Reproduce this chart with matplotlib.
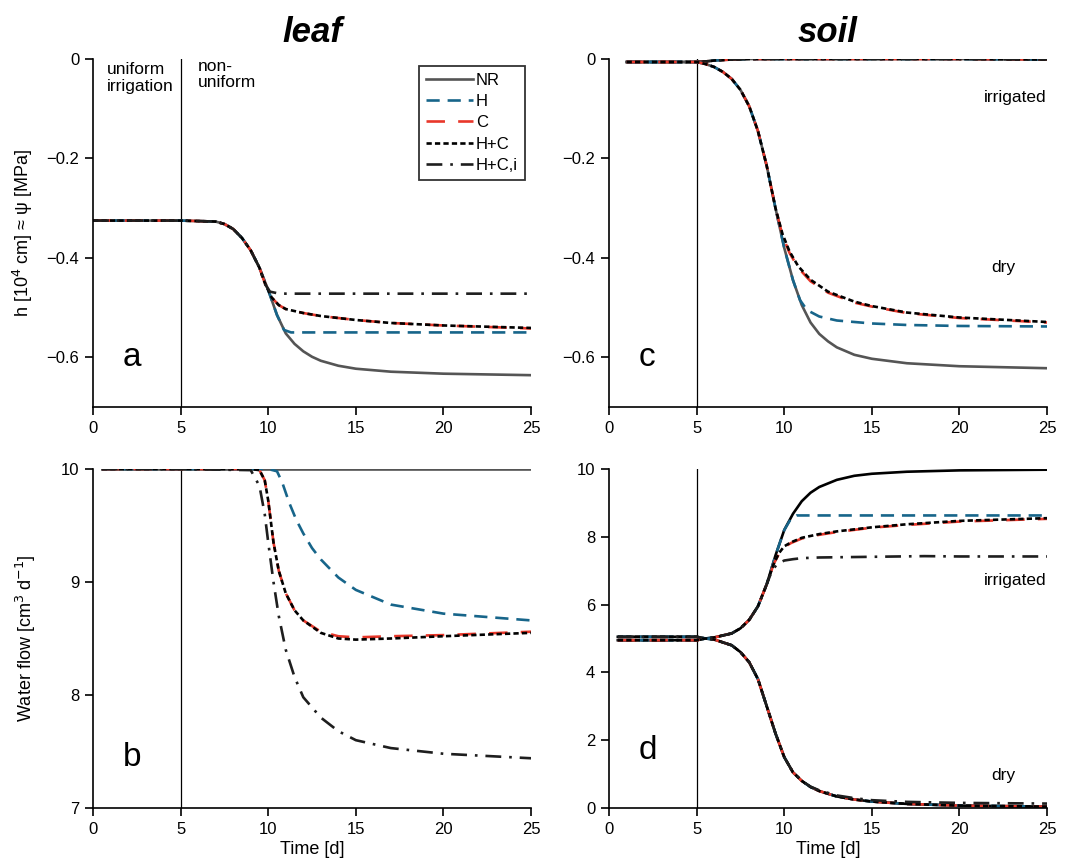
import numpy as np
import matplotlib
matplotlib.use("Agg")
import matplotlib.pyplot as plt

plt.rcParams['font.family'] = ['Liberation Sans', 'DejaVu Sans']

# ---- panel a: leaf water potential ----
ta = [0.0, 5, 7, 7.5, 8, 8.5, 9, 9.5, 10, 10.5, 11, 11.5, 12, 12.5, 13, 14, 15, 17, 20, 25]
a_NR = [-0.325, -0.325, -0.327, -0.332, -0.342, -0.36, -0.385, -0.42, -0.465, -0.515, -0.552, -0.573, -0.588, -0.599, -0.607, -0.617, -0.623, -0.629, -0.633, -0.636]
ta_H = [0.0, 5, 7, 7.5, 8, 8.5, 9, 9.5, 10, 10.5, 10.9, 11.3, 12, 15, 20, 25]
a_H = [-0.325, -0.325, -0.327, -0.332, -0.342, -0.36, -0.385, -0.42, -0.465, -0.515, -0.545, -0.55, -0.55, -0.55, -0.55, -0.55]
ta_C = [0.0, 5, 7, 7.5, 8, 8.5, 9, 9.5, 9.8, 10.2, 10.6, 11, 12, 13, 15, 17, 20, 25]
a_C = [-0.325, -0.325, -0.327, -0.332, -0.342, -0.36, -0.385, -0.42, -0.45, -0.48, -0.495, -0.503, -0.511, -0.517, -0.525, -0.531, -0.536, -0.542]
a_HC = [-0.325, -0.325, -0.327, -0.332, -0.342, -0.36, -0.385, -0.42, -0.45, -0.48, -0.495, -0.503, -0.511, -0.517, -0.525, -0.531, -0.536, -0.541]
ta_i = [0.0, 5, 7, 7.5, 8, 8.5, 9, 9.5, 9.8, 10.1, 10.5, 11, 15, 20, 25]
a_i = [-0.325, -0.325, -0.327, -0.332, -0.342, -0.36, -0.385, -0.42, -0.452, -0.468, -0.471, -0.472, -0.472, -0.472, -0.472]

# ---- panel b: leaf water flow ----
tb = [0.5, 5, 9, 9.5, 9.8, 10, 10.3, 10.6, 11, 11.5, 12, 13, 14, 15, 17, 20, 25]
b_NR = [10.0] * len(tb)
tb_H = [0.5, 5, 9, 10, 10.5, 10.8, 11.2, 11.6, 12, 12.5, 13, 14, 15, 17, 20, 25]
b_H = [10.0, 10.0, 10.0, 10.0, 9.98, 9.88, 9.7, 9.55, 9.43, 9.3, 9.2, 9.04, 8.93, 8.8, 8.72, 8.66]
b_C = [10.0, 10.0, 10.0, 9.99, 9.9, 9.72, 9.35, 9.1, 8.9, 8.75, 8.66, 8.56, 8.52, 8.51, 8.52, 8.53, 8.56]
b_HC = [10.0, 10.0, 10.0, 9.99, 9.9, 9.72, 9.35, 9.1, 8.9, 8.75, 8.66, 8.55, 8.5, 8.49, 8.5, 8.52, 8.55]
b_i = [10.0, 10.0, 9.99, 9.85, 9.6, 9.35, 9.0, 8.7, 8.4, 8.16, 7.98, 7.8, 7.68, 7.6, 7.53, 7.48, 7.44]

# ---- panel c: soil water potential (irrigated and dry halves) ----
tc = [1.0, 5, 5.5, 6, 7, 8, 9, 10, 12, 15, 20, 25]
c_irr = [-0.006, -0.006, -0.005, -0.003, -0.001, 0.0, 0.0, 0.0, 0.0, 0.0, 0.0, -0.001]
tcd = [1.0, 5, 5.5, 6, 6.5, 7, 7.5, 8, 8.5, 9, 9.5, 10, 10.5, 11, 11.5, 12, 12.5, 13, 14, 15, 17, 20, 25]
c_NR = [-0.006, -0.006, -0.01, -0.016, -0.026, -0.04, -0.062, -0.095, -0.145, -0.215, -0.3, -0.38, -0.445, -0.495, -0.53, -0.553, -0.568, -0.58, -0.595, -0.603, -0.612, -0.618, -0.622]
tc_H = [1.0, 5, 5.5, 6, 6.5, 7, 7.5, 8, 8.5, 9, 9.5, 10, 10.5, 10.9, 11.3, 12, 13, 15, 17, 20, 25]
c_H = [-0.006, -0.006, -0.01, -0.016, -0.026, -0.04, -0.062, -0.095, -0.145, -0.215, -0.3, -0.38, -0.445, -0.485, -0.505, -0.518, -0.526, -0.532, -0.535, -0.537, -0.538]
tc_C = [1.0, 5, 5.5, 6, 6.5, 7, 7.5, 8, 8.5, 9, 9.5, 9.9, 10.3, 10.8, 11.5, 12.5, 14, 15, 17, 20, 25]
c_C = [-0.006, -0.006, -0.01, -0.016, -0.026, -0.04, -0.062, -0.095, -0.145, -0.215, -0.3, -0.355, -0.39, -0.42, -0.447, -0.47, -0.49, -0.498, -0.511, -0.521, -0.53]
c_HC = [-0.006, -0.006, -0.01, -0.016, -0.026, -0.04, -0.062, -0.095, -0.145, -0.215, -0.3, -0.352, -0.387, -0.417, -0.444, -0.468, -0.488, -0.497, -0.51, -0.52, -0.529]
tc_i = [1.0, 5, 5.5, 6, 6.5, 7, 7.5, 8, 8.5, 9, 9.5, 9.9, 10.3, 11, 12, 13, 15, 17, 20, 25]
c_i = [-0.006, -0.006, -0.01, -0.016, -0.026, -0.04, -0.062, -0.095, -0.145, -0.215, -0.3, -0.345, -0.37, -0.397, -0.418, -0.43, -0.442, -0.45, -0.457, -0.463]

# ---- panel d: soil water flow (irrigated and dry halves) ----
td = [0.5, 5, 5.5, 6, 7, 7.5, 8, 8.5, 9, 9.5, 10, 10.5, 11, 11.5, 12, 13, 14, 15, 17, 20, 25]
d_NR_irr = [5.05, 5.05, 5.0, 5.03, 5.15, 5.3, 5.55, 5.95, 6.6, 7.45, 8.2, 8.68, 9.05, 9.3, 9.47, 9.68, 9.8, 9.86, 9.92, 9.96, 9.98]
td_H = [0.5, 5, 5.5, 6, 7, 7.5, 8, 8.5, 9, 9.5, 10, 10.4, 10.7, 12, 15, 20, 25]
d_H_irr = [5.05, 5.05, 5.0, 5.03, 5.15, 5.3, 5.55, 5.95, 6.6, 7.45, 8.2, 8.55, 8.63, 8.63, 8.63, 8.63, 8.63]
td_C = [0.5, 5, 5.5, 6, 7, 7.5, 8, 8.5, 9, 9.4, 9.7, 10.0, 10.4, 11, 12, 13, 15, 17, 20, 25]
d_C_irr = [4.95, 4.95, 5.0, 5.03, 5.15, 5.3, 5.55, 5.95, 6.6, 7.2, 7.5, 7.7, 7.82, 7.95, 8.06, 8.14, 8.27, 8.35, 8.45, 8.53]
d_HC_irr = [5.05, 5.05, 5.0, 5.03, 5.15, 5.3, 5.55, 5.95, 6.6, 7.2, 7.52, 7.72, 7.84, 7.97, 8.08, 8.16, 8.28, 8.37, 8.47, 8.55]
td_i = [0.5, 5, 5.5, 6, 7, 7.5, 8, 8.5, 9, 9.3, 9.6, 10.0, 10.5, 11, 12, 15, 18, 20, 25]
d_i_irr = [4.95, 4.95, 5.0, 5.03, 5.15, 5.3, 5.55, 5.95, 6.6, 7.0, 7.2, 7.3, 7.34, 7.37, 7.39, 7.41, 7.43, 7.42, 7.42]
d_dry = [4.95, 4.95, 5.0, 4.97, 4.8, 4.6, 4.3, 3.8, 3.0, 2.2, 1.5, 1.05, 0.8, 0.62, 0.5, 0.34, 0.25, 0.19, 0.12, 0.07, 0.04]
d_dry_i = [5.05, 5.05, 5.0, 4.97, 4.8, 4.6, 4.3, 3.8, 3.0, 2.2, 1.5, 1.05, 0.8, 0.63, 0.52, 0.37, 0.29, 0.23, 0.18, 0.15, 0.13]

labels = ['NR', 'H', 'C', 'H+C', 'H+C,i']
c_nr = '#555555'
c_h = '#17658a'
c_c = '#e8372a'
c_hc = '#000000'
c_i = '#1e1e1e'
lw = 1.9

fig = plt.figure(figsize=(10.67, 8.59), dpi=100)
axa = fig.add_axes([0.0872, 0.5262, 0.4105, 0.4051])
axb = fig.add_axes([0.0872, 0.0594, 0.4105, 0.3946])
axc = fig.add_axes([0.5708, 0.5262, 0.4105, 0.4051])
axd = fig.add_axes([0.5708, 0.0594, 0.4105, 0.3946])


def style(ax):
    for s in ['top', 'right']:
        ax.spines[s].set_visible(False)
    ax.spines['left'].set_linewidth(1.2)
    ax.spines['bottom'].set_linewidth(1.2)
    ax.tick_params(direction='out', length=6, width=1.2, labelsize=12, pad=4)
    ax.set_xlim(0, 25)
    ax.set_xticks([0, 5, 10, 15, 20, 25])
    ax.axvline(5, color='black', lw=0.9)


def draw(ax, t_nr, y_nr, t_h, y_h, t_c, y_c, y_hc, t_i, y_i, nr_col=c_nr, lab=True):
    ax.plot(t_nr, y_nr, color=nr_col, lw=lw, label=labels[0] if lab else None)
    ax.plot(t_h, y_h, color=c_h, lw=lw, ls=(0, (5, 3)), label=labels[1] if lab else None)
    ax.plot(t_c, y_c, color=c_c, lw=lw, ls=(0, (7, 5)), label=labels[2] if lab else None)
    ax.plot(t_c, y_hc, color=c_hc, lw=lw, ls=(0, (2, 1.2)), label=labels[3] if lab else None)
    ax.plot(t_i, y_i, color=c_i, lw=lw, ls=(0, (6, 3, 1, 3)), label=labels[4] if lab else None)


# panel a
style(axa)
draw(axa, ta, a_NR, ta_H, a_H, ta_C, a_C, a_HC, ta_i, a_i)
axa.set_ylim(-0.7, 0)
axa.set_yticks([0, -0.2, -0.4, -0.6])
axa.set_yticklabels(['0', '\u22120.2', '\u22120.4', '\u22120.6'])
axa.set_ylabel('h [10$^4$ cm] \u2248 \u03c8 [MPa]', fontsize=13, labelpad=8)
axa.text(0.8, -0.006, 'uniform\nirrigation', fontsize=12.5, va='top', linespacing=1.15)
axa.text(6.0, 0.0, 'non-\nuniform', fontsize=12.5, va='top', linespacing=1.05)
axa.text(1.7, -0.6, 'a', fontsize=24, va='center')
axa.legend(loc='upper left', bbox_to_anchor=(0.745, 0.98), frameon=True, fancybox=False,
           edgecolor='black', fontsize=12, handlelength=2.8, handletextpad=0.2,
           labelspacing=0.38, borderpad=0.4, borderaxespad=0)
axa.get_legend().get_frame().set_linewidth(1.3)
axa.set_title('leaf', fontsize=25, fontweight='bold', fontstyle='italic', pad=12)

# panel b
style(axb)
draw(axb, tb, b_NR, tb_H, b_H, tb, b_C, b_HC, tb, b_i)
axb.set_ylim(7, 10)
axb.set_yticks([7, 8, 9, 10])
axb.set_ylabel('Water flow [cm$^3$ d$^{-1}$]', fontsize=13, labelpad=16)
axb.set_xlabel('Time [d]', fontsize=13, labelpad=3)
axb.text(1.7, 7.45, 'b', fontsize=24, va='center')

# panel c
style(axc)
draw(axc, tc, c_irr, tc, c_irr, tc, c_irr, c_irr, tc, c_irr)
draw(axc, tcd, c_NR, tc_H, c_H, tc_C, c_C, c_HC, tc_i, c_i, lab=False)
axc.set_ylim(-0.7, 0)
axc.set_yticks([0, -0.2, -0.4, -0.6])
axc.set_yticklabels(['0', '\u22120.2', '\u22120.4', '\u22120.6'])
axc.text(21.4, -0.078, 'irrigated', fontsize=12.5, va='center')
axc.text(21.8, -0.42, 'dry', fontsize=12.5, va='center')
axc.text(1.7, -0.6, 'c', fontsize=24, va='center')
axc.set_title('soil', fontsize=25, fontweight='bold', fontstyle='italic', pad=12)

# panel d
style(axd)
draw(axd, td, d_NR_irr, td_H, d_H_irr, td_C, d_C_irr, d_HC_irr, td_i, d_i_irr, nr_col='black')
draw(axd, td, d_dry, td, d_dry, td, d_dry, d_dry, td, d_dry_i, nr_col='black', lab=False)
axd.set_ylim(0, 10)
axd.set_yticks([0, 2, 4, 6, 8, 10])
axd.set_xlabel('Time [d]', fontsize=13, labelpad=3)
axd.text(21.4, 6.7, 'irrigated', fontsize=12.5, va='center')
axd.text(21.8, 0.95, 'dry', fontsize=12.5, va='center')
axd.text(1.7, 1.7, 'd', fontsize=24, va='center')

fig.savefig('out.png', dpi=100)
